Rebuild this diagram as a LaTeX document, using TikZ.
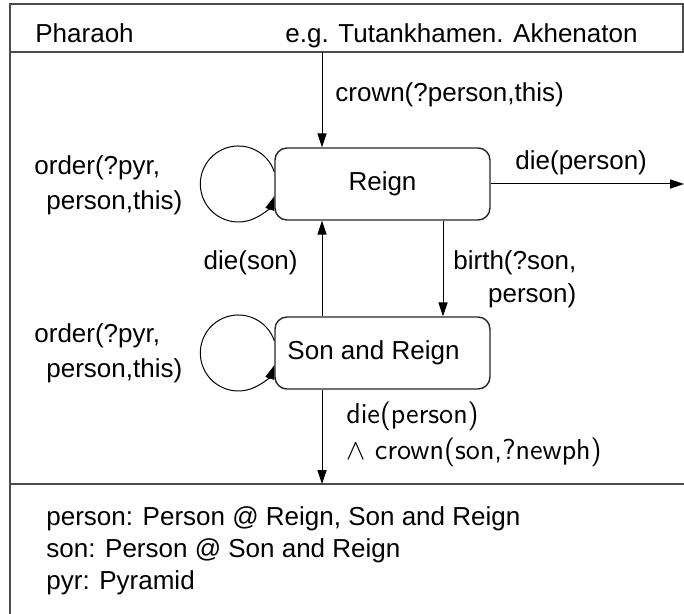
\documentclass[tikz,border=0pt]{standalone}
\usepackage{fontspec}
\setmainfont{Liberation Sans}
\usetikzlibrary{arrows.meta}
\begin{document}
\begin{tikzpicture}[x=0.5pt,y=0.5pt,
  frameline/.style={draw=black!70, line width=0.8pt},
  state/.style={draw=black!85, line width=0.7pt, rounded corners=6pt,
    minimum width=107.5pt, minimum height=36pt, inner sep=0pt,
    font=\fontsize{13}{16}\selectfont},
  arr/.style={draw=black, line width=0.5pt, -{Triangle[length=7pt,width=4.6pt]}},
  lbl/.style={inner sep=0pt, font=\fontsize{13}{17.5}\selectfont, align=left},
  rlbl/.style={inner sep=0pt, font=\fontsize{13}{16.5}\selectfont, align=right},
  sflbl/.style={inner sep=0pt, font=\sffamily\fontsize{14.4}{18}\selectfont, align=left},
  declbl/.style={inner sep=0pt, font=\fontsize{13}{16}\selectfont, anchor=base west}
]
\useasboundingbox (0,0) rectangle (684,-614);

% class frame: header compartment, body and attribute compartment
\draw[frameline] (10,-4) rectangle (683,-52);
\draw[frameline] (10,-52) -- (10,-614);
\draw[frameline] (10,-484) -- (684,-484);

\node[declbl] (title) at (35,-43) {Pharaoh};
\node[declbl] (examples) at (285,-43) {e.g. Tutankhamen. Akhenaton};

% states
\node[state] (reign) at (382.5,-184) {Reign};
\node[state] (sonreign) at (382.5,-353) {Son and Reign\hspace*{9pt}};

% entry and exit points
\coordinate (entry) at (322,-52);
\coordinate (exitright) at (684,-184);
\coordinate (exitdown) at (322,-484);

% transitions
\draw[arr] (entry) -- (entry |- reign.north);
\draw[arr] (reign.east) -- (exitright);
\draw[arr] (sonreign.north -| entry) -- (reign.south -| entry);
\draw[arr] (reign.south -| 443,0) -- (sonreign.north -| 443,0);
\draw[arr] (sonreign.south -| exitdown) -- (exitdown);

% self loops
\draw[arr] ([yshift=6.1pt]reign.west) arc[start angle=18.7, end angle=341.3, radius=19pt];
\draw[arr] ([yshift=6.1pt]sonreign.west) arc[start angle=18.7, end angle=341.3, radius=19pt];

% transition labels
\node[lbl, anchor=west] (lcrown) at (335,-95) {crown(?person,this)};
\node[lbl, anchor=west] (ldie) at (515,-163) {die(person)};
\node[lbl, anchor=west] (lorder1) at (34,-185) {order(?pyr,\\\hspace*{6pt}person,this)};
\node[lbl, anchor=east] (ldieson) at (298,-263) {die(son)};
\node[rlbl, anchor=west] (lbirth) at (453,-279.5) {birth(?son,\\person)};
\node[lbl, anchor=west] (lorder2) at (34,-353.5) {order(?pyr,\\\hspace*{6pt}person,this)};
\node[sflbl, anchor=west] (ldiecrown) at (346,-434) {die(person)\\$\wedge$ crown(son,?newph)};

% attribute compartment
\node[declbl] (attr1) at (46,-525) {person: Person @ Reign, Son and Reign};
\node[declbl] (attr2) at (46,-557) {son: Person @ Son and Reign};
\node[declbl] (attr3) at (46,-589) {pyr: Pyramid};
\end{tikzpicture}
\end{document}
